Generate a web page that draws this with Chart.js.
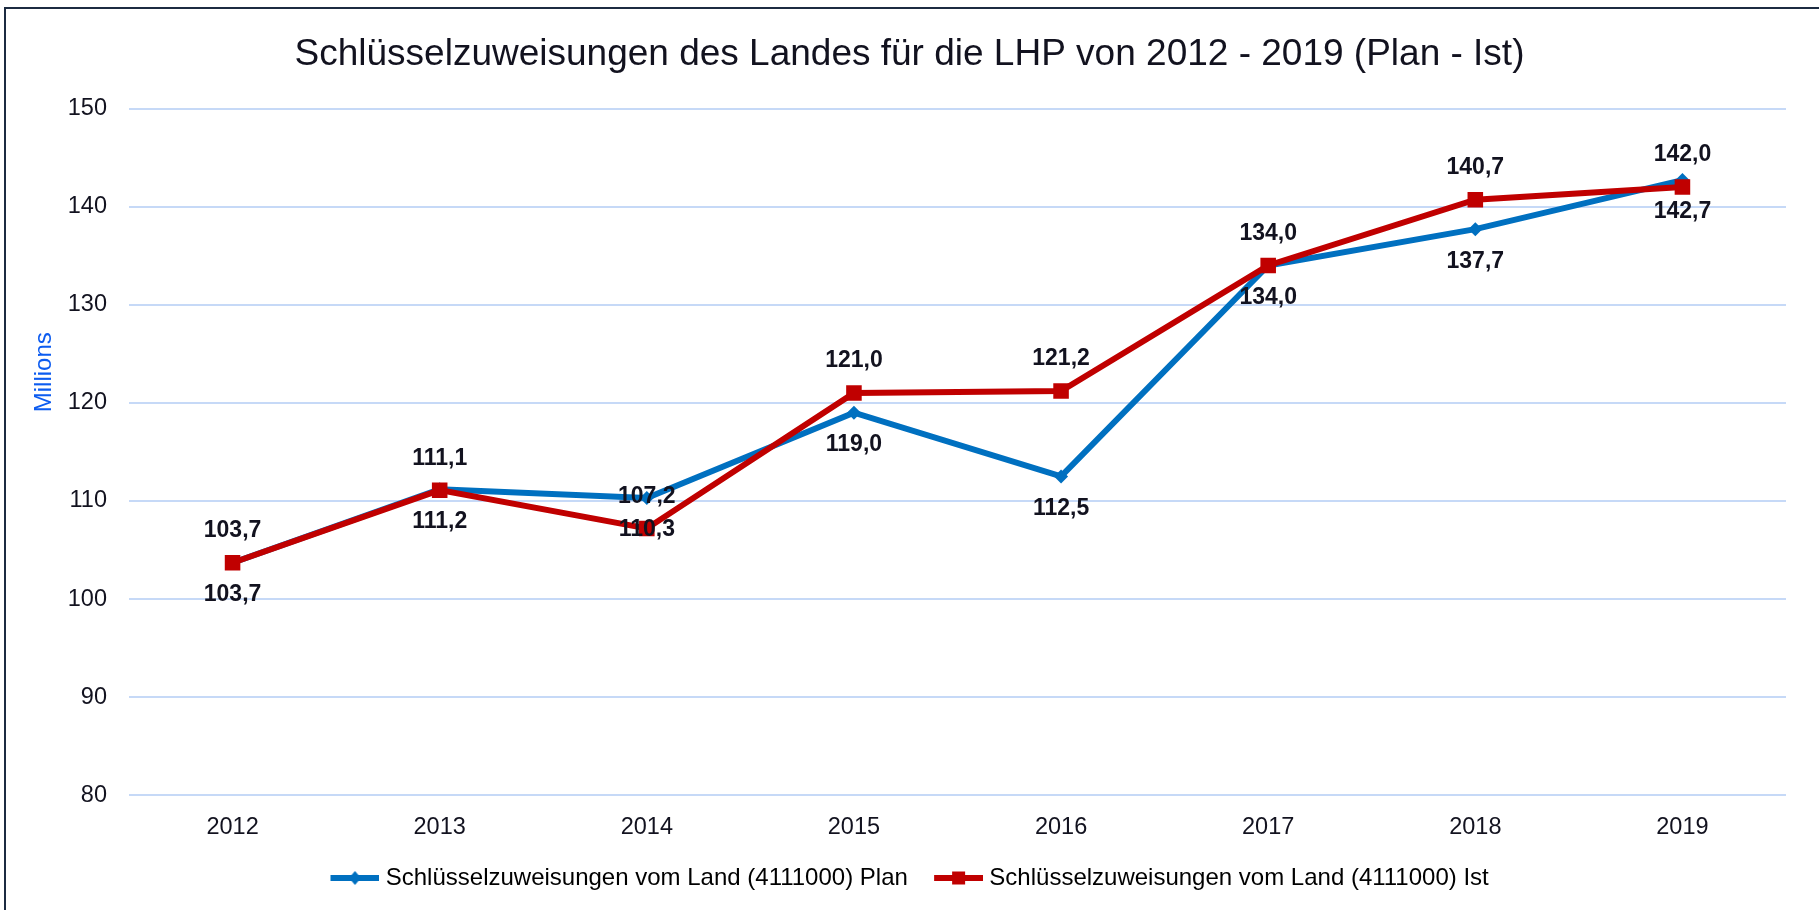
<!DOCTYPE html>
<html lang="de">
<head>
<meta charset="utf-8">
<title>Schlüsselzuweisungen LHP 2012 - 2019</title>
<script src="https://cdn.jsdelivr.net/npm/chart.js@4/dist/chart.umd.min.js"></script>
<style>
	html, body { margin: 0; padding: 0; background: #fff; overflow: hidden; }
	#rahmen { position: relative; width: 1819px; height: 910px; }
	#chart_line { position: absolute; left: 0; top: 0; }
	/* dunkler Rahmen oben und links wie im Original */
	#kante {
		position: absolute; left: 4px; top: 7px; width: 1900px; height: 1000px;
		border-left: 2.5px solid #1c2b41; border-top: 2.5px solid #1c2b41;
		pointer-events: none;
	}
</style>
</head>
<body>
<div id="rahmen">
	<canvas id="chart_line" width="1819" height="910"></canvas>
	<div id="kante"></div>
</div>
<script>
// Daten
const jahre = ['2012', '2013', '2014', '2015', '2016', '2017', '2018', '2019'];
const planWerte = [103.7, 111.2, 110.3, 119.0, 112.5, 134.0, 137.7, 142.7];
const istWerte = [103.7, 111.1, 107.2, 121.0, 121.2, 134.0, 140.7, 142.0];
const yMin = 80;
const yMax = 150;
const yStep = 10;

const titelText = 'Schlüsselzuweisungen des Landes für die LHP von 2012 - 2019 (Plan - Ist)';
const planName = 'Schlüsselzuweisungen vom Land (4111000) Plan';
const istName = 'Schlüsselzuweisungen vom Land (4111000) Ist';
const achsenText = 'Millions';

const schrift = '"Liberation Sans", Arial, Helvetica, sans-serif';
const blau = '#0070c0';
const rot = '#c00000';
const textFarbe = '#12121f';

// Zahlen im deutschen Format, eine Nachkommastelle
function formatZahl(wert) {
	return wert.toFixed(1).replace('.', ',');
}

// kleines Bild fuer die Legende: Linie mit Marker in der Mitte
// (links 6px leer, damit die Linie genau am Anfang des Eintrags sitzt)
function legendBild(farbe, form) {
	var c = document.createElement('canvas');
	c.width = 55;
	c.height = 16;
	var g = c.getContext('2d');
	g.strokeStyle = farbe;
	g.fillStyle = farbe;
	g.lineWidth = 6;
	g.beginPath();
	g.moveTo(6, 8);
	g.lineTo(55, 8);
	g.stroke();
	var mx = 30.5;
	if (form === 'raute') {
		g.beginPath();
		g.moveTo(mx, 1);
		g.lineTo(mx + 6, 8);
		g.lineTo(mx, 15);
		g.lineTo(mx - 6, 8);
		g.closePath();
		g.fill();
	} else {
		g.fillRect(mx - 6.5, 1.5, 13, 13);
	}
	return c;
}

// Werte an den Punkten: Ist oberhalb, Plan unterhalb
const wertePlugin = {
	id: 'werte',
	afterDatasetsDraw: function (chart) {
		var ctx = chart.ctx;
		ctx.save();
		ctx.font = 'bold 23px ' + schrift;
		ctx.fillStyle = textFarbe;
		ctx.textAlign = 'center';
		ctx.textBaseline = 'middle';
		chart.data.datasets.forEach(function (ds, i) {
			var meta = chart.getDatasetMeta(i);
			var versatz = ds.label === istName ? -32 : 32;
			meta.data.forEach(function (punkt, j) {
				ctx.fillText(formatZahl(ds.data[j]), punkt.x, punkt.y + versatz);
			});
		});
		ctx.restore();
	}
};

// Achsentitel "Millions" etwas oberhalb der Mitte, wie bei Excel
const achsenPlugin = {
	id: 'achsentitel',
	afterDraw: function (chart) {
		var ctx = chart.ctx;
		var area = chart.chartArea;
		ctx.save();
		ctx.translate(44, area.top + (area.bottom - area.top) * 0.384);
		ctx.rotate(-Math.PI / 2);
		ctx.font = '24px ' + schrift;
		ctx.fillStyle = '#0d5cf0';
		ctx.textAlign = 'center';
		ctx.textBaseline = 'middle';
		ctx.fillText(achsenText, 0, 0);
		ctx.restore();
	}
};

const legendBilder = [legendBild(blau, 'raute'), legendBild(rot, 'quadrat')];

function initChart() {
	var ctx = document.getElementById('chart_line').getContext('2d');
	new Chart(ctx, {
		type: 'line',
		data: {
			labels: jahre,
			datasets: [{
				label: planName,
				data: planWerte,
				borderColor: blau,
				backgroundColor: blau,
				borderWidth: 6,
				pointStyle: 'rectRot',
				pointRadius: 7,
				pointBorderWidth: 0,
				tension: 0,
				order: 1
			}, {
				label: istName,
				data: istWerte,
				borderColor: rot,
				backgroundColor: rot,
				borderWidth: 6,
				pointStyle: 'rect',
				pointRadius: 11,
				pointBorderWidth: 0,
				tension: 0,
				order: 0
			}]
		},
		options: {
			responsive: false,
			animation: false,
			devicePixelRatio: 1,
			layout: {
				padding: { left: 8, right: 8, top: 0, bottom: 10 }
			},
			scales: {
				x: {
					offset: true,
					grid: { display: false },
					border: { display: false },
					ticks: {
						color: textFarbe,
						font: { family: schrift, size: 23.5 },
						padding: 10.5,
						maxRotation: 0
					},
					afterFit: function (scale) { scale.height = 44.7; }
				},
				y: {
					min: yMin,
					max: yMax,
					grid: { color: '#c6d9f7', lineWidth: 2, drawTicks: false },
					border: { display: false },
					ticks: {
						stepSize: yStep,
						color: textFarbe,
						font: { family: schrift, size: 23.5 },
						padding: 22
					},
					afterFit: function (scale) { scale.width = 121; }
				},
				// leere Achse rechts, nur als Abstand zum Rand
				rechts: {
					position: 'right',
					grid: { display: false },
					border: { display: false },
					ticks: { display: false },
					afterFit: function (scale) { scale.width = 25; }
				}
			},
			plugins: {
				title: {
					display: true,
					text: titelText,
					color: textFarbe,
					font: { family: schrift, size: 37, weight: 'normal' },
					padding: { top: 33, bottom: 31.1 }
				},
				legend: {
					position: 'bottom',
					labels: {
						usePointStyle: true,
						pointStyleWidth: 43.5,
						padding: 26,
						color: textFarbe,
						font: { family: schrift, size: 24 },
						generateLabels: function (chart) {
							return chart.data.datasets.map(function (ds, i) {
								return {
									text: ds.label,
									pointStyle: legendBilder[i],
									fillStyle: 'transparent',
									strokeStyle: 'transparent',
									lineWidth: 0,
									hidden: false,
									datasetIndex: i
								};
							});
						}
					}
				},
				tooltip: { enabled: false }
			}
		},
		plugins: [wertePlugin, achsenPlugin]
	});
}

document.addEventListener('DOMContentLoaded', function () {
	initChart();
});
</script>
</body>
</html>
